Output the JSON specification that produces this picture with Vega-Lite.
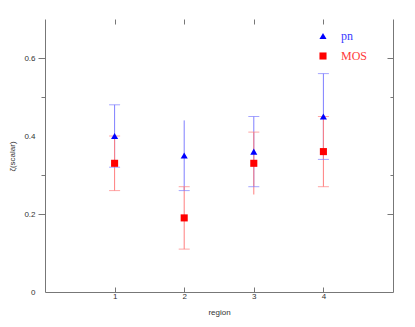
{
  "$schema": "https://vega.github.io/schema/vega-lite/v6.json",
  "width": 348,
  "height": 273,
  "autosize": {"type": "none"},
  "padding": {"left": 45, "top": 19, "right": 22, "bottom": 35},
  "background": "white",
  "config": {
    "view": {"stroke": null},
    "axis": {"labelFont": "Liberation Sans", "labelFontSize": 8, "labelColor": "#333333", "titleFont": "Liberation Sans", "titleFontSize": 8, "titleFontWeight": "normal", "titleColor": "#333333", "domainColor": "#777777", "tickColor": "#777777", "grid": false}
  },
  "datasets": {
    "bars": [
      {"region": 1, "series": "pn", "value": 0.40, "lo": 0.32, "hi": 0.48},
      {"region": 2, "series": "pn", "value": 0.35, "lo": 0.26, "hi": 0.44},
      {"region": 3, "series": "pn", "value": 0.36, "lo": 0.27, "hi": 0.45},
      {"region": 4, "series": "pn", "value": 0.45, "lo": 0.34, "hi": 0.56},
      {"region": 1, "series": "MOS", "value": 0.33, "lo": 0.26, "hi": 0.40},
      {"region": 2, "series": "MOS", "value": 0.19, "lo": 0.11, "hi": 0.27},
      {"region": 3, "series": "MOS", "value": 0.33, "lo": 0.25, "hi": 0.41},
      {"region": 4, "series": "MOS", "value": 0.36, "lo": 0.27, "hi": 0.45}
    ],
    "caps": [
      {"region": 1, "series": "pn", "cap": 0.48},
      {"region": 1, "series": "pn", "cap": 0.32},
      {"region": 2, "series": "pn", "cap": 0.26},
      {"region": 3, "series": "pn", "cap": 0.45},
      {"region": 3, "series": "pn", "cap": 0.27},
      {"region": 4, "series": "pn", "cap": 0.56},
      {"region": 4, "series": "pn", "cap": 0.34},
      {"region": 1, "series": "MOS", "cap": 0.40},
      {"region": 1, "series": "MOS", "cap": 0.26},
      {"region": 2, "series": "MOS", "cap": 0.27},
      {"region": 2, "series": "MOS", "cap": 0.11},
      {"region": 3, "series": "MOS", "cap": 0.41},
      {"region": 4, "series": "MOS", "cap": 0.45},
      {"region": 4, "series": "MOS", "cap": 0.27}
    ]
  },
  "resolve": {"axis": {"x": "independent", "y": "independent"}},
  "layer": [
    {
      "data": {"name": "bars"},
      "transform": [{"filter": "datum.series === 'pn'"}],
      "mark": {"type": "rule", "color": "#7f7fff", "strokeWidth": 1},
      "encoding": {
        "x": {"field": "region", "type": "quantitative", "scale": {"domain": [0, 5]},
          "axis": {"orient": "bottom", "values": [1, 2, 3, 4], "format": "d", "tickSize": -5, "labelPadding": 5, "title": "region", "titleY": 16, "titleBaseline": "top"}},
        "y": {"field": "lo", "type": "quantitative", "scale": {"domain": [0, 0.7], "nice": false},
          "axis": {"orient": "left", "values": [0, 0.2, 0.4, 0.6], "labelExpr": "datum.value == 0 ? '0' : format(datum.value, '.1f')", "ticks": false, "labelPadding": 10, "title": "ζ(scalar)", "titleX": -33, "titleY": 137, "titleBaseline": "middle"}},
        "y2": {"field": "hi"}
      }
    },
    {
      "data": {"name": "bars"},
      "transform": [{"filter": "datum.series === 'MOS'"}],
      "mark": {"type": "rule", "color": "#ff7f7f", "strokeWidth": 1},
      "encoding": {
        "x": {"field": "region", "type": "quantitative",
          "axis": {"orient": "top", "values": [1, 2, 3, 4], "labels": false, "domain": false, "tickSize": -5, "title": null}},
        "y": {"field": "lo", "type": "quantitative",
          "axis": {"orient": "left", "values": [0.2, 0.6], "labels": false, "domain": false, "tickSize": 7, "title": null}},
        "y2": {"field": "hi"}
      }
    },
    {
      "data": {"name": "caps"},
      "transform": [{"filter": "datum.series === 'pn'"}],
      "mark": {"type": "tick", "orient": "horizontal", "color": "#7f7fff", "size": 11, "thickness": 1},
      "encoding": {
        "x": {"field": "region", "type": "quantitative", "axis": null},
        "y": {"field": "cap", "type": "quantitative",
          "axis": {"orient": "left", "values": [0.3, 0.5], "labels": false, "domain": false, "tickSize": 4, "title": null}}
      }
    },
    {
      "data": {"name": "caps"},
      "transform": [{"filter": "datum.series === 'MOS'"}],
      "mark": {"type": "tick", "orient": "horizontal", "color": "#ff7f7f", "size": 11, "thickness": 1},
      "encoding": {
        "x": {"field": "region", "type": "quantitative", "axis": null},
        "y": {"field": "cap", "type": "quantitative",
          "axis": {"orient": "right", "values": [0.2, 0.6], "labels": false, "domain": true, "tickSize": -6, "title": null}}
      }
    },
    {
      "data": {"name": "bars"},
      "mark": {"type": "point", "filled": true, "opacity": 1, "size": 50},
      "encoding": {
        "x": {"field": "region", "type": "quantitative", "axis": null},
        "y": {"field": "value", "type": "quantitative",
          "axis": {"orient": "right", "values": [0.3, 0.5], "labels": false, "domain": false, "tickSize": -3, "title": null}},
        "shape": {"field": "series", "type": "nominal", "scale": {"domain": ["pn", "MOS"], "range": ["triangle-up", "square"]},
          "legend": {"orient": "none", "legendX": 272, "legendY": 11, "title": null, "padding": 0, "rowPadding": 8, "symbolSize": 50, "labelFont": "Liberation Serif", "labelFontSize": 12, "labelOffset": 12,
            "labelColor": {"expr": "datum.value === 'pn' ? '#3b3bff' : '#ff3b3b'"}}},
        "color": {"field": "series", "type": "nominal", "scale": {"domain": ["pn", "MOS"], "range": ["#0000ff", "#ff0000"]}}
      }
    }
  ]
}
